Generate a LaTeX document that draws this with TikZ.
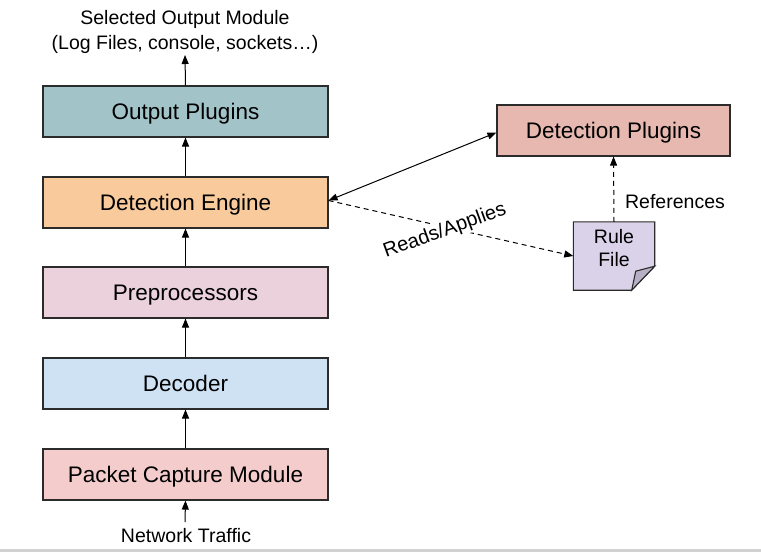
\documentclass[tikz,border=0pt]{standalone}
\usepackage{fontspec}
\setmainfont{Liberation Sans}
\usetikzlibrary{arrows.meta,calc}
\definecolor{cOut}{HTML}{A2C4C9}
\definecolor{cEng}{HTML}{F9CB9C}
\definecolor{cPre}{HTML}{EAD1DC}
\definecolor{cDec}{HTML}{CFE2F3}
\definecolor{cCap}{HTML}{F4CCCC}
\definecolor{cPlug}{HTML}{E6B8AF}
\definecolor{cRule}{HTML}{D9D2E9}
\definecolor{cFold}{HTML}{B7B0C4}
\definecolor{cLine}{HTML}{2B2B2B}
\begin{document}
\begin{tikzpicture}[x=1pt,y=-1pt,
  box/.style={draw=cLine,line width=1.1pt,minimum width=285pt,minimum height=51pt,inner sep=0pt,text height=16pt,text depth=0pt,font=\fontsize{22.5}{25}\selectfont},
  lbl/.style={font=\fontsize{19.5}{25}\selectfont,inner sep=0pt,align=center},
  arr/.style={draw=black,line width=1pt,-{Triangle[length=9pt,width=7pt]}},
  darr/.style={arr,dashed,dash pattern=on 5pt off 4pt}]
\useasboundingbox (0,0) rectangle (761,552);
\fill[gray!35] (0,549) rectangle (761,552);
\node[box,fill=cOut] (out) at (185.5,111.5) {Output Plugins};
\node[box,fill=cEng] (eng) at (185.5,202.5) {Detection Engine};
\node[box,fill=cPre] (pre) at (185.5,292.5) {Preprocessors};
\node[box,fill=cDec] (dec) at (185.5,383.5) {Decoder};
\node[box,fill=cCap] (cap) at (185.5,474.5) {Packet Capture Module};
\node[box,fill=cPlug,minimum width=233pt] (plug) at (613.5,130.5) {Detection Plugins};
\node[lbl] (sel) at (185,31.5) {Selected Output Module\\(Log Files, console, sockets…)};
\node[lbl] (net) at (186,536) {Network Traffic};
\coordinate (selb) at (185,55);
\coordinate (nett) at (185,522);
% rule file
\node[minimum width=81pt,minimum height=68pt,inner sep=0pt] (rule) at (614,256) {};
\filldraw[draw=cLine,fill=cRule,line width=1.1pt] (rule.north west) -- (rule.north east) -- ([yshift=24pt]rule.south east) -- ([xshift=-23pt]rule.south east) -- (rule.south west) -- cycle;
\filldraw[draw=cLine,fill=cFold,line width=1.1pt] ([xshift=-23pt]rule.south east) -- ([xshift=-19pt,yshift=19pt]rule.south east) -- ([yshift=24pt]rule.south east) -- cycle;
\node[lbl,font=\fontsize{19.5}{23}\selectfont] (ruletxt) at (614,248) {Rule\\File};
% arrows
\draw[arr] (cap.north) -- (dec.south);
\draw[arr] (dec.north) -- (pre.south);
\draw[arr] (pre.north) -- (eng.south);
\draw[arr] (eng.north) -- (out.south);
\draw[arr] (out.north) -- (selb);
\draw[arr] (nett) -- (cap.south);
\draw[arr,{Triangle[length=9pt,width=7pt]}-{Triangle[length=9pt,width=7pt]}] ([yshift=2pt]eng.east) -- ([yshift=-2pt]plug.west);
\draw[darr] ([yshift=2pt]eng.east) -- (rule.west);
\draw[darr] (rule.north) -- (plug.south);
\node[lbl,rotate=20,fill=white,inner sep=1pt,font=\fontsize{20}{25}\selectfont] (reads) at (445,231) {Reads/Applies};
\node[lbl] (refs) at (675,202) {References};
\end{tikzpicture}
\end{document}
